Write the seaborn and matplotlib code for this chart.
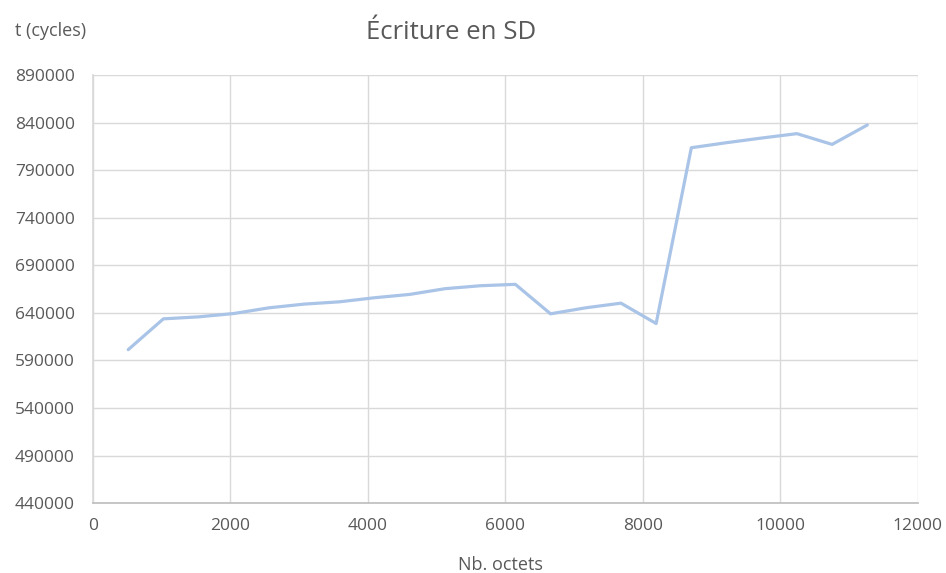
import matplotlib
matplotlib.use("Agg")
import matplotlib.pyplot as plt
import seaborn as sns
import pandas as pd

# Write time on the SD card versus number of bytes written
nb_octets = [512, 1024, 1536, 2048, 2560, 3072, 3584, 4096, 4608, 5120, 5632,
             6144, 6656, 7168, 7680, 8192, 8704, 9216, 9728, 10240, 10752, 11264]
cycles = [601300, 633700, 635800, 639300, 645300, 649200, 651600, 655900,
          659400, 665400, 668500, 670000, 639000, 645300, 650200, 628800,
          813600, 818900, 823800, 828400, 817100, 837500]
x_ticks = [0, 2000, 4000, 6000, 8000, 10000, 12000]
y_ticks = [440000, 490000, 540000, 590000, 640000, 690000, 740000, 790000, 840000, 890000]

sns.set_theme(style="whitegrid")
plt.rcParams["font.family"] = ["Open Sans", "DejaVu Sans"]

text_color = "#595959"
grid_color = "#d9d9d9"

df = pd.DataFrame({"Nb. octets": nb_octets, "t (cycles)": cycles})

fig = plt.figure(figsize=(9.46, 5.73), dpi=100)
ax = fig.add_axes([0.0983, 0.122, 0.872, 0.747])

sns.lineplot(data=df, x="Nb. octets", y="t (cycles)", ax=ax,
             color="#a9c4e7", linewidth=2.3)

ax.set_xlim(0, 12000)
ax.set_ylim(440000, 890000)
ax.set_xticks(x_ticks)
ax.set_yticks(y_ticks)
ax.set_xticklabels([str(v) for v in x_ticks])
ax.set_yticklabels([str(v) for v in y_ticks])
ax.tick_params(axis="both", colors=text_color, labelsize=12.5, length=0)
ax.tick_params(axis="y", pad=13)
ax.tick_params(axis="x", pad=11)
ax.grid(True, color=grid_color, linewidth=1)
ax.set_axisbelow(True)

for side in ["top", "right"]:
    ax.spines[side].set_visible(False)
ax.spines["left"].set_color(grid_color)
ax.spines["bottom"].set_color("#bfbfbf")

ax.set_xlabel("")
ax.set_ylabel("")
fig.text(0.053, 0.946, "t (cycles)", ha="center", va="center",
         fontsize=13, color=text_color)
fig.text(0.5285, 0.005, "Nb. octets", ha="center", va="baseline",
         fontsize=13, color=text_color)
fig.text(0.477, 0.944, "Écriture en SD", ha="center", va="center",
         fontsize=18.5, color=text_color)

fig.savefig("out.png", dpi=100, facecolor="white")
